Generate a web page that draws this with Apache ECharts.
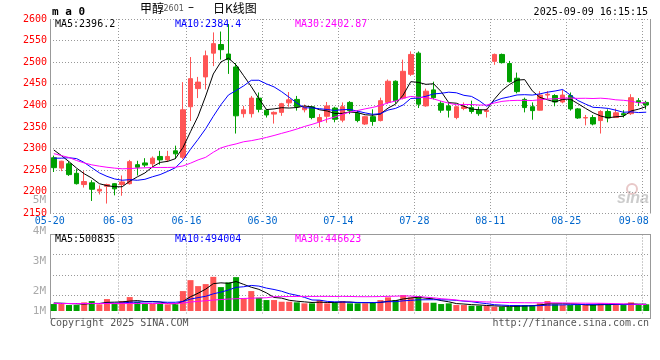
<!DOCTYPE html>
<html><head><meta charset="utf-8">
<script src="https://cdn.jsdelivr.net/npm/echarts/dist/echarts.min.js"></script>
<style>html,body{margin:0;padding:0;background:#fff}#c{width:660px;height:360px}</style>
</head><body><div id="c"></div>
<script>
const dates = ['05-20','05-21','05-22','05-23','05-26','05-27','05-28','05-29','05-30',
'06-03','06-04','06-05','06-06','06-09','06-10','06-11','06-12','06-13',
'06-16','06-17','06-18','06-19','06-20','06-23','06-24','06-25','06-26','06-27',
'06-30','07-01','07-02','07-03','07-04','07-07','07-08','07-09','07-10','07-11',
'07-14','07-15','07-16','07-17','07-18','07-21','07-22','07-23','07-24','07-25',
'07-28','07-29','07-30','07-31','08-01','08-04','08-05','08-06','08-07','08-08',
'08-11','08-12','08-13','08-14','08-15','08-18','08-19','08-20','08-21','08-22',
'08-25','08-26','08-27','08-28','08-29','09-01','09-02','09-03','09-04','09-05',
'09-08'];
const labelIdx = [0,9,18,28,38,48,58,68,78];
const opens  = [2279,2255,2265,2243,2217,2221,2202,2213,2219,2217,2219,2263,2267,2265,2282,2274,2295,2280,2397,2439,2466,2521,2541,2519,2489,2381,2381,2417,2389,2380,2384,2406,2414,2390,2397,2363,2375,2394,2366,2407,2382,2357,2374,2365,2407,2456,2417,2472,2521,2399,2436,2405,2399,2372,2393,2395,2389,2386,2502,2518,2497,2463,2414,2397,2389,2424,2423,2408,2423,2392,2371,2372,2365,2386,2372,2381,2381,2411,2407];
const closes = [2256,2271,2240,2219,2224,2206,2206,2217,2207,2223,2270,2257,2262,2278,2274,2282,2288,2390,2462,2454,2515,2543,2529,2506,2376,2390,2417,2391,2378,2384,2404,2413,2397,2396,2372,2372,2399,2368,2397,2388,2365,2374,2363,2411,2456,2411,2479,2518,2403,2433,2418,2389,2389,2397,2397,2386,2381,2389,2518,2499,2455,2432,2395,2388,2424,2426,2408,2424,2392,2371,2372,2357,2386,2371,2383,2378,2418,2407,2401];
const lows   = [2246,2248,2237,2217,2210,2179,2194,2173,2192,2191,2217,2238,2257,2257,2263,2269,2276,2276,2364,2417,2437,2491,2506,2473,2335,2372,2372,2384,2372,2358,2376,2397,2388,2384,2368,2349,2360,2361,2361,2380,2361,2355,2353,2363,2403,2404,2414,2468,2394,2397,2414,2383,2372,2368,2389,2381,2376,2372,2494,2497,2453,2428,2384,2367,2388,2415,2398,2405,2388,2369,2354,2354,2335,2361,2371,2372,2378,2399,2391];
const highs  = [2284,2272,2270,2253,2248,2227,2215,2219,2220,2238,2274,2272,2278,2282,2295,2295,2307,2454,2512,2466,2527,2569,2571,2588,2498,2399,2422,2430,2392,2386,2406,2431,2422,2402,2399,2380,2408,2397,2407,2410,2389,2376,2391,2418,2460,2458,2506,2525,2525,2439,2455,2410,2407,2399,2407,2411,2397,2393,2520,2520,2503,2476,2418,2407,2433,2433,2426,2436,2430,2394,2378,2378,2389,2391,2393,2389,2426,2417,2411];
const volumes = [500000,500000,429000,429000,621000,714000,479000,857000,500000,714000,1000000,664000,521000,521000,521000,479000,479000,1429000,2214000,1786000,1929000,2450000,1714000,2050000,2429000,907000,1429000,950000,786000,786000,664000,664000,621000,550000,550000,786000,550000,621000,714000,550000,550000,550000,621000,786000,979000,786000,1143000,979000,1071000,593000,593000,500000,550000,429000,429000,379000,379000,357000,307000,307000,307000,429000,429000,429000,550000,714000,479000,429000,429000,429000,429000,429000,550000,479000,479000,429000,621000,429000,479000];
// MA values before a full window is available
const ma5Head  = [2297,2284,2270,2255];
const ma10Head = [2278,2278,2279,2277,2268,2256,2244,2236,2230];
const ma30Head = [2288.6,2284,2279.5,2272.6,2267,2262.6,2259.5,2257,2255,2253.4,2254,2255,2255.7,2256.5,2256.5,2256.5,2257,2260,2266.4,2274,2280,2291.7,2301.7,2307,2311,2316,2318.5,2322,2326];
const vma5Head  = [571000,557000,536000,514000];
const vma10Head = [550000,543000,536000,536000,536000,543000,543000,557000,557000];
const vma30Head = [536000,536000,536000,536000,536000,536000,536000,536000,536000,536000,536000,536000,536000,536000,536000,536000,536000,571000,643000,693000,736000,786000,821000,857000,879000,900000,921000,936000,950000];
const priceMaText = ['MA5:2396.2','MA10:2384.4','MA30:2402.87'];
const volMaText = ['MA5:500835','MA10:494004','MA30:446623'];
const volTickLabels = ['4M','3M','2M','1M'];
const titleCn = '甲醇', titleCode = '2601', titleDash = '–', titleRest = '日K线图';
const stamp = '2025-09-09 16:15:15';

const RED = '#ff5555', GREEN = '#00a000', GRID = '#999';
const MONO = 'DejaVu Sans Mono';
const CJK = 'Noto Sans CJK SC';
const maColors = ['#000000','#0000ff','#ff00ff'];

function ma(src, head, n) {
  return src.map((_, i) => {
    if (i < n - 1) return head[i];
    let s = 0;
    for (let k = i - n + 1; k <= i; k++) s += src[k];
    return +(s / n).toFixed(2);
  });
}
const labelSet = new Set(labelIdx);
const showIdx = (i) => labelSet.has(i);
const candles = opens.map((o, i) => [o, closes[i], lows[i], highs[i]]);
const dotted = {color: GRID, width: 1, type: [1, 2]};

const chart = echarts.init(document.getElementById('c'), null, {renderer: 'canvas'});

function txt(text, x, y, fill, font, align, valign) {
  return {type: 'text', silent: true, style: {text, x, y, fill, font,
    align: align || 'left', textAlign: align || 'left',
    verticalAlign: valign || 'middle', textVerticalAlign: valign || 'middle'}};
}
function ln(x1, y1, x2, y2, color) {
  return {type: 'line', silent: true, shape: {x1, y1, x2, y2}, style: {stroke: color || GRID, lineWidth: 1}};
}

const graphics = [
  ln(50.5, 19, 50.5, 213.5), ln(650.5, 19, 650.5, 213.5),
  ln(50, 234.5, 651, 234.5), ln(50.5, 234.5, 50.5, 318.5), ln(650.5, 234.5, 650.5, 318.5),
  ln(50, 318.5, 651, 318.5),
  txt(titleCn, 140, 8, '#000', '12px ' + CJK),
  txt(titleCode, 163.5, 9, '#555', '8px DejaVu Sans'),
  txt(titleDash, 191, 8, '#000', '12px DejaVu Sans', 'center'),
  txt(titleRest, 213, 8, '#000', '12px ' + CJK),
  txt('m a 0', 52, 12, '#000', 'bold 11px ' + MONO),
  txt(stamp, 648, 12, '#000', '10px ' + MONO, 'right'),
  txt(priceMaText[0], 55, 24, maColors[0], '10px ' + MONO),
  txt(priceMaText[1], 175, 24, maColors[1], '10px ' + MONO),
  txt(priceMaText[2], 295, 24, maColors[2], '10px ' + MONO),
  txt(volMaText[0], 55, 239, maColors[0], '10px ' + MONO),
  txt(volMaText[1], 175, 239, maColors[1], '10px ' + MONO),
  txt(volMaText[2], 295, 239, maColors[2], '10px ' + MONO),
  txt('5M', 46, 200, '#aaa', '11px ' + MONO, 'right'),
  txt(volTickLabels[0], 46, 231, '#aaa', '11px ' + MONO, 'right'),
  txt(volTickLabels[1], 46, 261, '#aaa', '11px ' + MONO, 'right'),
  txt(volTickLabels[2], 46, 291, '#aaa', '11px ' + MONO, 'right'),
  txt(volTickLabels[3], 46, 311, '#aaa', '11px ' + MONO, 'right'),
  txt('Copyright 2025 SINA.COM', 50, 323, '#555', '10px ' + MONO),
  txt('http://finance.sina.com.cn', 649, 323, '#555', '10px ' + MONO, 'right'),
  {type: 'circle', silent: true, shape: {cx: 632, cy: 189, r: 5}, style: {fill: 'none', stroke: '#e8c8c8', lineWidth: 2}},
  txt('sina', 649, 199, '#cccccc', 'italic bold 16px Liberation Sans', 'right')
];

chart.setOption({
  animation: false,
  backgroundColor: '#fff',
  grid: [
    {left: 50, right: 10, top: 19, height: 194.5, outerBoundsMode: 'none', containLabel: false},
    {left: 50, right: 10, top: 234.5, height: 80.5, outerBoundsMode: 'none', containLabel: false}
  ],
  xAxis: [
    {type: 'category', gridIndex: 0, data: dates, boundaryGap: true,
     axisLine: {show: false}, axisTick: {show: false},
     axisLabel: {show: true, interval: showIdx, color: '#0066cc', fontFamily: MONO, fontSize: 10, margin: 3,
       formatter: (v, i) => (i === dates.length - 1 ? '{e|' + v + '}' : '{n|' + v + '}'),
       rich: {n: {padding: [0, 8, 0, 0], color: '#0066cc', fontFamily: MONO, fontSize: 10},
              e: {padding: [0, 25, 0, 0], color: '#0066cc', fontFamily: MONO, fontSize: 10}}},
     splitLine: {show: true, interval: showIdx, lineStyle: dotted}},
    {type: 'category', gridIndex: 1, data: dates, boundaryGap: true,
     axisLine: {show: false}, axisTick: {show: false}, axisLabel: {show: false},
     splitLine: {show: true, interval: showIdx, lineStyle: dotted}}
  ],
  yAxis: [
    {type: 'value', gridIndex: 0, min: 2150, max: 2600, interval: 50,
     axisLine: {show: false}, axisTick: {show: false},
     axisLabel: {color: '#ff0000', fontFamily: MONO, fontSize: 10, margin: 3, padding: [0, 0, 6, 0],
       formatter: (v) => String(v)},
     splitLine: {show: true, lineStyle: dotted}},
    {type: 'value', gridIndex: 1, min: -286000, max: 5486000, interval: 1443000,
     axisLine: {show: false}, axisTick: {show: false}, axisLabel: {show: false},
     splitLine: {show: true, lineStyle: {width: 1, type: [1, 2],
       color: ['rgba(0,0,0,0)', GRID, GRID, GRID, 'rgba(0,0,0,0)']}}}
  ],
  series: [
    {type: 'candlestick', xAxisIndex: 0, yAxisIndex: 0, data: candles, barWidth: 5,
     itemStyle: {color: RED, color0: GREEN, borderColor: RED, borderColor0: GREEN, borderWidth: 1}},
    {type: 'line', xAxisIndex: 0, yAxisIndex: 0, data: ma(closes, ma5Head, 5), symbol: 'none', lineStyle: {color: maColors[0], width: 1}, silent: true},
    {type: 'line', xAxisIndex: 0, yAxisIndex: 0, data: ma(closes, ma10Head, 10), symbol: 'none', lineStyle: {color: maColors[1], width: 1}, silent: true},
    {type: 'line', xAxisIndex: 0, yAxisIndex: 0, data: ma(closes, ma30Head, 30), symbol: 'none', lineStyle: {color: maColors[2], width: 1}, silent: true},
    {type: 'bar', xAxisIndex: 1, yAxisIndex: 1, data: volumes, barWidth: 6,
     itemStyle: {color: (p) => (closes[p.dataIndex] >= opens[p.dataIndex] ? RED : GREEN)}},
    {type: 'line', xAxisIndex: 1, yAxisIndex: 1, data: ma(volumes, vma5Head, 5), symbol: 'none', lineStyle: {color: maColors[0], width: 1}, silent: true},
    {type: 'line', xAxisIndex: 1, yAxisIndex: 1, data: ma(volumes, vma10Head, 10), symbol: 'none', lineStyle: {color: maColors[1], width: 1}, silent: true},
    {type: 'line', xAxisIndex: 1, yAxisIndex: 1, data: ma(volumes, vma30Head, 30), symbol: 'none', lineStyle: {color: maColors[2], width: 1}, silent: true}
  ],
  graphic: graphics
});
</script></body></html>
